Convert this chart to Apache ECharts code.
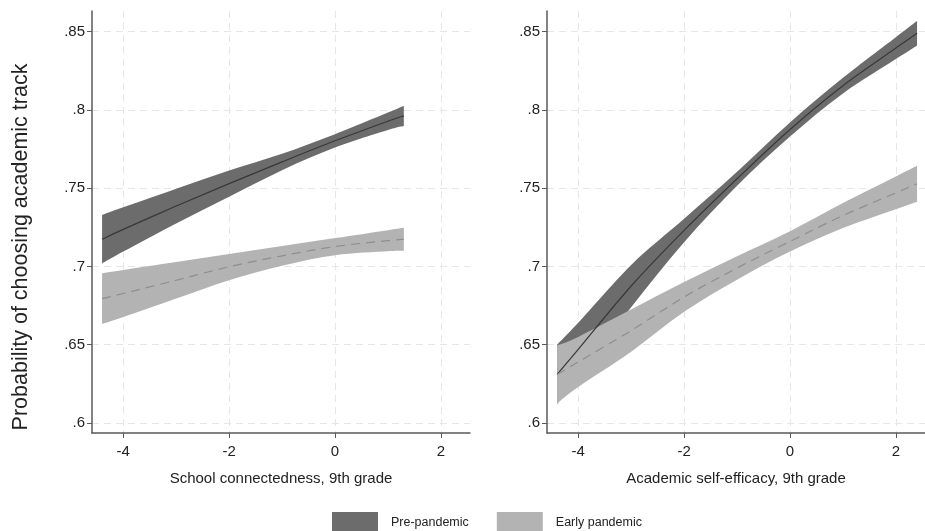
<!DOCTYPE html>
<html>
<head>
<meta charset="utf-8">
<script src="https://cdn.jsdelivr.net/npm/echarts@6/dist/echarts.min.js"></script>
<style>
html,body{margin:0;padding:0;background:#fff;}
#chart{width:925px;height:531px;}
</style>
</head>
<body>
<div id="chart"></div>
<script>
// ---- Data ----
const seriesNames = ['Pre-pandemic', 'Early pandemic'];
const panelTitles = ['School connectedness, 9th grade', 'Academic self-efficacy, 9th grade'];
const yAxisTitle = 'Probability of choosing academic track';
const yTicks = [0.6, 0.65, 0.7, 0.75, 0.8, 0.85];
const xTicks = [-4, -2, 0, 2];

// Left panel: School connectedness
const xLeft          = [-4.4,   -4,     -3,     -2,     -1,     0,      1,      1.3];
const preMeanLeft    = [0.7174, 0.7237, 0.7386, 0.7529, 0.7668, 0.7803, 0.7928, 0.7962];
const preLowLeft     = [0.7019, 0.7095, 0.7275, 0.7445, 0.7615, 0.7760, 0.7872, 0.7897];
const preHighLeft    = [0.7329, 0.7378, 0.7497, 0.7613, 0.7720, 0.7845, 0.7983, 0.8027];
const earlyMeanLeft  = [0.6795, 0.6827, 0.6912, 0.6998, 0.7068, 0.7127, 0.7165, 0.7174];
const earlyLowLeft   = [0.6632, 0.6677, 0.6795, 0.6912, 0.7005, 0.7072, 0.7097, 0.7100];
const earlyHighLeft  = [0.6957, 0.6977, 0.7028, 0.7079, 0.7130, 0.7181, 0.7232, 0.7247];

// Right panel: Academic self-efficacy
const xRight         = [-4.4,   -4,     -3,     -2,     -1,     0,      1,      2,      2.4];
const preMeanRight   = [0.6310, 0.6470, 0.6875, 0.7230, 0.7560, 0.7875, 0.8155, 0.8395, 0.8490];
const preLowRight    = [0.6120, 0.6300, 0.6740, 0.7155, 0.7515, 0.7830, 0.8105, 0.8325, 0.8412];
const preHighRight   = [0.6500, 0.6640, 0.7010, 0.7305, 0.7605, 0.7920, 0.8205, 0.8465, 0.8568];
const earlyMeanRight = [0.6310, 0.6390, 0.6590, 0.6805, 0.6990, 0.7160, 0.7325, 0.7470, 0.7528];
const earlyLowRight  = [0.6125, 0.6230, 0.6455, 0.6710, 0.6915, 0.7095, 0.7245, 0.7365, 0.7413];
const earlyHighRight = [0.6495, 0.6550, 0.6725, 0.6900, 0.7065, 0.7225, 0.7405, 0.7575, 0.7643];

// ---- Styling ----
const FONT = "'Liberation Sans', Arial, sans-serif";
const PRE_BAND = '#6c6c6c';
const EARLY_BAND = '#b3b3b3';
const PRE_LINE = '#383838';
const EARLY_LINE = '#8e8e8e';
const AXIS_COLOR = '#5a5a5a';
const GRID_COLOR = '#e6e6e6';

// Catmull-Rom spline through pixel points -> SVG path segments
function splinePath(pts, startCmd) {
  let d = startCmd + pts[0][0] + ' ' + pts[0][1];
  const n = pts.length;
  for (let i = 0; i < n - 1; i++) {
    const p0 = pts[Math.max(i - 1, 0)], p1 = pts[i], p2 = pts[i + 1], p3 = pts[Math.min(i + 2, n - 1)];
    const c1x = p1[0] + (p2[0] - p0[0]) / 6, c1y = p1[1] + (p2[1] - p0[1]) / 6;
    const c2x = p2[0] - (p3[0] - p1[0]) / 6, c2y = p2[1] - (p3[1] - p1[1]) / 6;
    d += ' C' + c1x + ' ' + c1y + ' ' + c2x + ' ' + c2y + ' ' + p2[0] + ' ' + p2[1];
  }
  return d;
}

function band(name, gi, xs, lo, hi, color) {
  const rows = xs.map((x, i) => [x, lo[i], hi[i]]);
  return {
    type: 'custom', name: name, xAxisIndex: gi, yAxisIndex: gi,
    data: rows, encode: { x: 0, y: [1, 2] }, silent: true,
    itemStyle: { color: color },
    renderItem: function (params, api) {
      if (params.dataIndex !== 0) return null;
      const up = rows.map(r => api.coord([r[0], r[2]]));
      const dn = rows.map(r => api.coord([r[0], r[1]])).reverse();
      const d = splinePath(up, 'M') + ' ' + splinePath(dn, 'L') + ' Z';
      return { type: 'path', shape: { pathData: d }, style: { fill: color, stroke: null } };
    }
  };
}
function meanLine(gi, xs, ys, color, dashed) {
  const rows = xs.map((x, i) => [x, ys[i]]);
  return {
    type: 'custom', name: 'mean' + gi + (dashed ? 'e' : 'p'), xAxisIndex: gi, yAxisIndex: gi,
    data: rows, encode: { x: 0, y: 1 }, silent: true,
    renderItem: function (params, api) {
      if (params.dataIndex !== 0) return null;
      const pts = rows.map(r => api.coord(r));
      return { type: 'path', shape: { pathData: splinePath(pts, 'M') },
               style: { fill: null, stroke: color, lineWidth: 1.2, lineDash: dashed ? [9, 6] : null } };
    }
  };
}

function yFmt(v) {
  return v.toFixed(2).replace(/0+$/, '').replace(/^0/, '');
}

function makeXAxis(gi) {
  return {
    type: 'value', gridIndex: gi, min: -4.59, max: 2.55,
    name: panelTitles[gi], nameLocation: 'middle', nameGap: 38,
    nameTextStyle: { fontFamily: FONT, fontSize: 15, color: '#222' },
    axisLine: { show: true, onZero: false, lineStyle: { color: AXIS_COLOR, width: 1.5 } },
    axisTick: { show: true, length: 5, customValues: xTicks, lineStyle: { color: AXIS_COLOR } },
    axisLabel: { customValues: xTicks, margin: 11, fontFamily: FONT, fontSize: 15, color: '#222',
                 formatter: v => String(v) },
    splitLine: { show: true, lineStyle: { color: GRID_COLOR, type: [7, 5], width: 1 } }
  };
}
function makeYAxis(gi) {
  return {
    type: 'value', gridIndex: gi, min: 0.5936, max: 0.8632,
    axisLine: { show: true, onZero: false, lineStyle: { color: AXIS_COLOR, width: 1.5 } },
    axisTick: { show: true, length: 5, customValues: yTicks, lineStyle: { color: AXIS_COLOR } },
    axisLabel: { customValues: yTicks, margin: 7, fontFamily: FONT, fontSize: 15, color: '#222',
                 formatter: yFmt },
    splitLine: { show: true, lineStyle: { color: GRID_COLOR, type: [7, 5], width: 1 } }
  };
}

const series = [
  band(seriesNames[0], 0, xLeft, preLowLeft, preHighLeft, PRE_BAND),
  band(seriesNames[1], 0, xLeft, earlyLowLeft, earlyHighLeft, EARLY_BAND),
  meanLine(0, xLeft, preMeanLeft, PRE_LINE, false),
  meanLine(0, xLeft, earlyMeanLeft, EARLY_LINE, true),
  band(seriesNames[0], 1, xRight, preLowRight, preHighRight, PRE_BAND),
  band(seriesNames[1], 1, xRight, earlyLowRight, earlyHighRight, EARLY_BAND),
  meanLine(1, xRight, preMeanRight, PRE_LINE, false),
  meanLine(1, xRight, earlyMeanRight, EARLY_LINE, true)
];

const chart = echarts.init(document.getElementById('chart'), null, { renderer: 'canvas' });
chart.setOption({
  animation: false,
  backgroundColor: '#ffffff',
  textStyle: { fontFamily: FONT },
  grid: [
    { left: 92, top: 11, width: 378, height: 422 },
    { left: 547, top: 11, width: 378, height: 422 }
  ],
  xAxis: [makeXAxis(0), makeXAxis(1)],
  yAxis: [makeYAxis(0), makeYAxis(1)],
  legend: {
    left: 332, top: 512, padding: 0,
    icon: 'rect', itemWidth: 46, itemHeight: 22, itemGap: 28,
    selectedMode: false,
    textStyle: { fontFamily: FONT, fontSize: 12.5, color: '#222', padding: [0, 0, 0, 8] },
    data: [
      { name: seriesNames[0], itemStyle: { color: PRE_BAND } },
      { name: seriesNames[1], itemStyle: { color: EARLY_BAND } }
    ]
  },
  graphic: [{
    type: 'text', x: 21, y: 247, rotation: Math.PI / 2,
    style: { text: yAxisTitle, fontFamily: FONT, fontSize: 21.5, fill: '#222',
             align: 'center', verticalAlign: 'middle' }
  }],
  series: series
});
</script>
</body>
</html>
